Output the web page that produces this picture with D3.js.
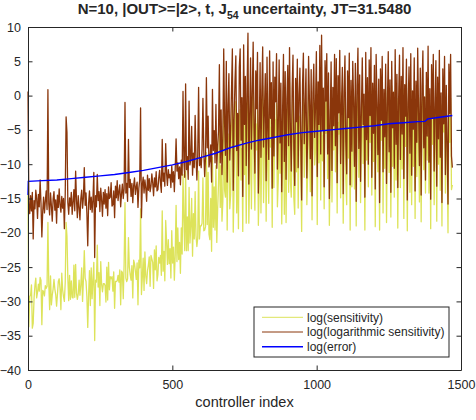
<!DOCTYPE html>
<html>
<head>
<meta charset="utf-8">
<script src="https://cdn.jsdelivr.net/npm/d3@7"></script>
<style>
body { margin: 0; background: #fff; }
text { font-family: "Liberation Sans", Arial, sans-serif; fill: #262626; }
</style>
</head>
<body>
<div id="chart"></div>
<script>
// controller index goes 0, 3, 6, ... (one value read every idxStep controllers)
var idxStep = 3;

// log(sensitivity), one row = 30 controllers
var sensitivity = [
  -14.5, -33.7, -29.3, -29.1, -27.6, -33.9, -33.2, -29.5, -27.7, -26.6,
  -29.5, -28.7, -27.5, -28.5, -26.5, -26.9, -33.4, -28.4, -28.6, -29.2,
  -27.7, -28.1, -27.8, -18.5, -27.3, -31.2, -26.3, -30.5, -29.1, -28.2,
  -26.8, -28.2, -29.0, -30.7, -29.0, -27.1, -26.7, -28.2, -31.2, -25.9,
  -28.3, -29.3, -30.0, -27.2, -18.5, -20.5, -26.6, -29.9, -26.2, -29.7,
  -27.0, -29.4, -29.5, -24.7, -29.4, -24.6, -28.8, -29.7, -28.9, -26.9,
  -29.1, -27.6, -25.1, -30.0, -26.8, -22.6, -26.6, -27.1, -29.3, -33.8,
  -29.0, -25.5, -30.6, -25.1, -29.6, -26.9, -24.3, -35.7, -26.9, -27.2,
  -21.8, -27.9, -25.8, -30.6, -24.2, -27.5, -28.6, -27.4, -27.4, -27.7,
  -30.1, -25.0, -29.8, -24.3, -28.3, -26.4, -26.7, -26.4, -28.5, -25.7,
  -31.0, -27.1, -27.1, -27.0, -26.2, -27.2, -25.4, -30.5, -25.6, -25.8,
  -29.6, -24.5, -15.6, -26.6, -27.1, -26.7, -20.7, -25.0, -26.1, -26.9,
  -24.8, -29.5, -24.0, -24.5, -25.6, -26.8, -24.4, -30.5, -24.0, -25.1,
  -16.5, -29.0, -26.5, -23.7, -28.4, -22.8, -26.3, -27.4, -25.5, -24.7,
  -23.5, -27.8, -23.3, -23.8, -24.3, -28.1, -22.5, -25.4, -21.9, -27.0,
  -26.1, -23.6, -24.4, -23.3, -26.2, -16.8, -25.6, -22.7, -27.0, -18.2,
  -21.2, -24.6, -21.0, -24.5, -22.3, -26.6, -19.7, -24.4, -22.1, -26.9,
  -23.2, -16.0, -24.2, -19.3, -23.9, -21.4, -25.9, -19.3, -23.1, -11.5,
  -18.0, -22.6, -11.0, -22.6, -17.7, -22.6, -13.4, -21.5, -19.0, -15.0,
  -23.4, -17.2, -20.9, -14.0, -20.4, -22.0, -20.8, -11.0, -20.9, -19.0,
  -19.0, -18.6, -12.0, -19.7, -19.6, -19.1, -8.3, -18.8, -11.2, -20.2,
  -21.0, -15.0, -22.7, -9.0, -19.2, -13.3, -19.6, -10.2, -21.4, -16.5,
  -12.8, -5.0, -16.3, -10.2, -18.3, -15.4, -0.6, -13.8, -14.8, -3.4,
  -19.6, -8.0, -5.6, -16.5, -14.5, -5.0, -1.3, -19.9, -12.8, -4.1,
  -0.9, -17.1, -8.0, -19.4, -2.8, -2.0, -12.3, -7.7, -19.8, -1.0,
  -11.5, -3.7, -18.6, -4.4, 2.1, -18.6, -11.1, -0.8, -16.5, -4.8,
  2.7, -11.3, -16.7, -4.1, -7.9, -2.1, -18.9, -13.0, -1.4, -17.1,
  -7.0, 1.4, -15.6, -6.8, -3.5, -18.3, -2.2, -9.9, -15.7, 1.4,
  -7.5, -4.6, -19.2, -2.7, -13.4, -3.5, -5.8, -1.1, -16.2, -12.3,
  -2.2, -11.3, -4.2, -18.7, -9.2, 0.7, -17.3, -0.5, -18.5, -6.0,
  -0.1, -14.1, 1.9, -12.4, -14.8, -5.2, 0.6, -15.0, -17.3, -3.3,
  -11.1, 1.7, -16.4, -5.0, -3.0, -10.6, -19.8, -2.8, -0.4, -11.9,
  -7.0, -2.9, -15.9, -10.9, 1.6, -7.3, -14.0, -3.4, -18.1, -5.5,
  -0.7, -10.1, -7.9, 1.8, -18.8, -1.3, -9.8, 2.5, -15.2, 1.3,
  -9.5, -5.8, -16.5, -0.4, -5.5, -0.5, -12.1, -1.9, -18.9, -9.7,
  -0.5, -15.5, -5.3, -7.9, 0.9, -11.1, -0.7, -17.1, -3.9, -5.6,
  0.5, -14.9, -4.9, -1.9, -18.6, -6.1, 0.2, -12.0, -15.9, -2.8,
  -9.1, 0.1, -19.6, -0.7, -13.3, 0.7, -7.3, -13.6, -0.2, -19.0,
  -1.3, -0.2, -11.9, -3.1, -15.6, -6.7, -0.6, -9.9, -3.8, -19.6,
  0.3, -9.4, -2.0, -13.3, -0.4, -6.8, 0.7, -14.5, -3.1, -9.6,
  1.2, -19.1, 0.4, -7.1, -11.1, -2.4, -19.6, -2.0, -6.5, 1.2,
  -17.1, -1.4, -10.6, 0.8, -18.5, -4.1, -0.3, -11.2, -3.0, -17.7,
  1.4, -10.3, -2.1, -14.8, 0.8, -12.3, -0.4, -19.3, -2.6, 1.5,
  -13.4, 0.1, -10.7, 0.9, -17.9, -0.5, -7.4, 1.8, -19.7, -3.6,
  0.9, -14.1, 1.0, -15.9, -2.8, -10.3, 0.4, -17.9, -0.6, -11.8,
  0.6, -5.9, -15.5, -0.3, -18.4, -1.3, -0.1, -10.8, -5.8, -14.2,
  1.5, -9.4, 0.8, -14.2, -1.8, -19.4, 0.2, -7.1, -0.5, -15.9,
  -6.2, 0.3, -18.3, 1.3, -10.0, 0.4, -13.8, -1.4, -19.0, -0.2,
  -5.3, 0.1, -14.2, -3.1, -9.0, -20.0, 0.3, -6.8, -0.4, -13.7,
  -13.0
];

// log(logarithmic sensitivity), same rows
var logSensitivity = [
  0.6, -15.9, -17.2, -14.6, -16.8, -14.1, -20.9, -15.3, -16.5, -13.8,
  -15.0, -17.9, -14.4, -16.2, -12.3, -15.7, -20.6, -16.9, -14.8, -17.1,
  -15.4, -13.9, -16.6, 0.85, -15.8, -17.4, -14.2, -16.0, -18.3, -15.1,
  -14.0, -16.7, -15.2, -18.6, -14.5, -16.3, -13.6, -15.9, -17.0, -14.7,
  -16.4, -15.0, -19.4, -14.3, -3.1, -5.4, -15.6, -17.3, -14.9, -16.1,
  -14.1, -17.3, -15.5, -13.7, -16.8, -11.0, -15.2, -17.8, -14.6, -16.3,
  -18.1, -15.0, -13.8, -16.4, -14.9, -10.5, -16.0, -14.2, -17.2, -21.9,
  -15.7, -13.9, -16.6, -14.8, -17.0, -15.1, -11.2, -23.6, -14.6, -16.2,
  -11.5, -15.3, -14.0, -16.9, -13.5, -15.2, -17.6, -14.1, -15.8, -13.7,
  -16.4, -14.3, -17.5, -13.3, -15.0, -14.8, -12.7, -16.1, -15.9, -13.9,
  -17.8, -13.2, -14.9, -12.4, -15.3, -14.0, -13.0, -16.2, -14.3, -12.9,
  -15.0, -13.6, -1.0, -14.2, -12.8, -15.4, -6.4, -13.4, -12.2, -14.7,
  -12.8, -15.6, -13.1, -12.0, -14.4, -13.3, -12.6, -16.3, -13.5, -12.3,
  -1.8, -17.8, -13.0, -11.9, -14.2, -12.3, -13.5, -15.4, -11.6, -13.8,
  -12.1, -14.0, -13.2, -11.4, -12.7, -14.6, -12.0, -13.3, -11.1, -13.9,
  -13.7, -12.0, -10.9, -12.8, -14.1, -6.4, -12.5, -11.3, -13.2, -7.0,
  -11.3, -13.1, -10.8, -12.0, -11.5, -13.4, -10.2, -12.6, -11.1, -14.0,
  -10.7, -6.3, -11.0, -9.8, -12.1, -10.4, -13.0, -9.4, -11.6, 0.6,
  -9.6, -11.9, 1.7, -10.8, -8.9, -12.2, -0.8, -10.1, -9.3, -4.5,
  -11.6, -8.4, -10.5, -2.9, -9.0, -12.3, -8.7, 1.2, -10.2, -9.1,
  -10.5, -7.8, -0.4, -8.2, -11.8, -9.0, 2.6, -7.6, -3.0, -10.4,
  -9.5, -7.2, -12.6, 0.9, -8.0, -5.1, -9.8, -1.3, -10.6, -7.4,
  -5.2, 4.5, -9.8, -2.1, -11.5, -6.3, 6.8, -4.0, -8.7, 5.0,
  -12.6, -1.5, 3.2, -9.4, -5.0, 0.8, 6.8, -13.8, -3.6, 2.1,
  5.8, -8.0, -2.6, -11.7, 4.1, 6.8, -6.5, -0.3, -14.7, 7.4,
  -4.2, 2.8, -10.2, 1.0, 9.1, -12.9, -3.1, 5.5, -7.8, 0.2,
  7.8, -4.6, -11.3, 3.6, -1.9, 6.3, -14.2, -6.0, 4.8, -9.0,
  0.4, 7.1, -7.5, -2.4, 3.2, -12.4, 5.6, -5.1, -9.3, 6.5,
  -3.3, 1.9, -13.5, 4.9, -8.8, 2.7, -0.9, 6.1, -10.7, -4.4,
  5.2, -6.9, 1.8, -14.0, -2.2, 6.0, -9.6, 3.5, -12.2, -0.5,
  4.4, -7.3, 7.0, -4.9, -11.0, 0.9, 5.9, -7.8, -13.1, 2.5,
  -3.8, 5.3, -10.5, 0.1, 4.0, -6.6, -15.2, 1.5, 6.2, -7.0,
  -2.0, 3.9, -12.0, -5.4, 5.7, -0.8, -9.2, 3.8, -14.6, 0.3,
  4.6, -6.1, -1.6, 6.4, -11.8, 2.0, -4.2, 7.3, -8.5, 8.8,
  -5.0, 1.1, -13.3, 5.1, -0.8, 6.1, -8.5, 3.3, -15.0, -3.5,
  4.9, -10.9, 1.2, -4.4, 6.0, -7.3, 5.4, -12.7, 2.9, -2.5,
  6.6, -9.9, -1.2, 4.1, -14.3, 0.6, 5.8, -6.7, -11.4, 3.6,
  -3.2, 6.2, -13.0, 2.2, -8.1, 5.0, -1.0, -10.3, 4.7, -15.4,
  1.4, 6.9, -7.7, 3.0, -12.5, -2.0, 5.5, -4.2, 0.2, -14.8,
  6.3, -6.4, 2.6, -10.0, 5.2, -2.9, 7.0, -11.9, 1.8, -5.5,
  4.4, -13.6, 6.0, -0.9, -8.6, 2.4, -15.6, 3.9, -3.6, 5.7,
  -11.1, 0.9, -6.0, 4.6, -12.8, -1.4, 6.4, -8.2, 2.3, -14.1,
  5.0, -4.7, 0.5, -10.6, 6.7, -7.1, 3.1, -13.4, -0.4, 5.9,
  -9.3, 2.8, -5.6, 7.0, -12.1, 1.6, -3.0, 5.3, -15.2, -1.1,
  4.2, -8.4, 6.1, -11.6, 0.7, -4.9, 5.5, -13.9, 2.1, -6.8,
  6.9, -2.5, -10.2, 4.0, -14.5, 1.3, 6.5, -7.6, -0.2, -12.3,
  3.4, -5.9, 7.2, -9.7, 1.0, -15.1, 4.5, -3.3, 6.0, -11.0,
  -1.8, 5.1, -13.2, 2.7, -6.3, 6.6, -9.0, 0.4, -15.6, 3.9,
  -4.1, 5.7, -11.5, 1.5, -7.4, -15.8, 4.6, -2.6, 6.0, -8.8,
  -10.5
];

// log(error), smooth so it is read at fewer points
var errorIdx = [0, 1, 50, 100, 150, 200, 250, 300, 350, 400, 450, 500, 550, 600, 650,
  700, 760, 800, 850, 900, 950, 1000, 1050, 1100, 1150, 1200, 1250, 1300, 1350,
  1375, 1385, 1420, 1470];
var errorVals = [-14.5, -12.5, -12.4, -12.3, -12.1, -11.9, -11.7, -11.5, -11.2, -10.9,
  -10.5, -10.1, -9.6, -9.0, -8.4, -7.6, -6.9, -6.5, -6.1, -5.7, -5.4, -5.2, -5.0,
  -4.8, -4.6, -4.4, -4.1, -3.95, -3.8, -3.75, -3.4, -3.2, -2.9];

var xTicks = [0, 500, 1000, 1500];
var yTicks = [-40, -35, -30, -25, -20, -15, -10, -5, 0, 5, 10];
var legendLabels = ["log(sensitivity)", "log(logarithmic sensitivity)", "log(error)"];
var colors = ["#dde35a", "#8a360b", "#0000ff"];

var width = 476, height = 420;
var plotL = 28, plotR = 461, plotT = 27, plotB = 370;

var svg = d3.select("#chart").append("svg")
    .attr("width", width)
    .attr("height", height)
    .style("background", "#fff");

var x = d3.scaleLinear().domain([0, 1500]).range([plotL, plotR]);
var y = d3.scaleLinear().domain([-40, 10]).range([plotB, plotT]);

// series as [index, value] pairs
function pairs(vals) {
  return vals.map(function(v, i) { return [i * idxStep, v]; });
}
var errPairs = errorIdx.map(function(d, i) { return [d, errorVals[i]]; });

var line = d3.line()
    .x(function(d) { return x(d[0]); })
    .y(function(d) { return y(d[1]); });

svg.append("path")
    .datum(pairs(sensitivity))
    .attr("fill", "none")
    .attr("stroke", colors[0])
    .attr("stroke-width", 1.3)
    .attr("stroke-linejoin", "round")
    .attr("d", line);

svg.append("path")
    .datum(pairs(logSensitivity))
    .attr("fill", "none")
    .attr("stroke", colors[1])
    .attr("stroke-width", 1.3)
    .attr("stroke-linejoin", "round")
    .attr("d", line);

svg.append("path")
    .datum(errPairs)
    .attr("fill", "none")
    .attr("stroke", colors[2])
    .attr("stroke-width", 1.4)
    .attr("d", line);

// axes, matlab style box with inward ticks
var axisColor = "#262626";
var fmt = d3.format("d");

svg.append("g")
    .attr("transform", "translate(0," + plotB + ")")
    .style("color", axisColor)
    .call(d3.axisBottom(x).tickValues(xTicks).tickFormat(fmt).tickSizeInner(-4.5).tickSizeOuter(0).tickPadding(10))
    .call(function(g) { g.selectAll("text").style("font-size", "12.5px"); });

svg.append("g")
    .attr("transform", "translate(" + plotL + ",0)")
    .style("color", axisColor)
    .call(d3.axisLeft(y).tickValues(yTicks).tickFormat(fmt).tickSizeInner(-4.5).tickSizeOuter(0).tickPadding(7))
    .call(function(g) { g.selectAll("text").style("font-size", "12.5px"); });

svg.append("g")
    .attr("transform", "translate(0," + plotT + ")")
    .style("color", axisColor)
    .call(d3.axisTop(x).tickValues(xTicks).tickSizeInner(-4.5).tickSizeOuter(0).tickFormat(""));

svg.append("g")
    .attr("transform", "translate(" + plotR + ",0)")
    .style("color", axisColor)
    .call(d3.axisRight(y).tickValues(yTicks).tickSizeInner(-4.5).tickSizeOuter(0).tickFormat(""));

// x label
svg.append("text")
    .attr("x", (plotL + plotR) / 2)
    .attr("y", 406.5)
    .attr("text-anchor", "middle")
    .style("font-size", "14.5px")
    .text("controller index");

// title with subscript
var title = svg.append("text")
    .attr("x", (plotL + plotR) / 2)
    .attr("y", 14)
    .attr("text-anchor", "middle")
    .style("font-size", "15px")
    .style("font-weight", "bold");
title.append("tspan").text("N=10, |OUT>=|2>, t, J");
title.append("tspan").attr("dy", 5).style("font-size", "10.5px").text("54");
title.append("tspan").attr("dy", -5).text(" uncertainty, JT=31.5480");

// legend
var lg = svg.append("g").attr("transform", "translate(254,307)");
lg.append("rect")
    .attr("width", 195)
    .attr("height", 50)
    .attr("fill", "#fff")
    .attr("stroke", axisColor)
    .attr("stroke-width", 1);

legendLabels.forEach(function(lab, i) {
  var yy = 10.3 + i * 14.7;
  lg.append("line")
      .attr("x1", 8).attr("x2", 49)
      .attr("y1", yy).attr("y2", yy)
      .attr("stroke", colors[i])
      .attr("stroke-width", i == 2 ? 1.4 : 1);
  lg.append("text")
      .attr("x", 53)
      .attr("y", yy)
      .attr("dy", "0.35em")
      .style("font-size", "12px")
      .text(lab);
});
</script>
</body>
</html>
